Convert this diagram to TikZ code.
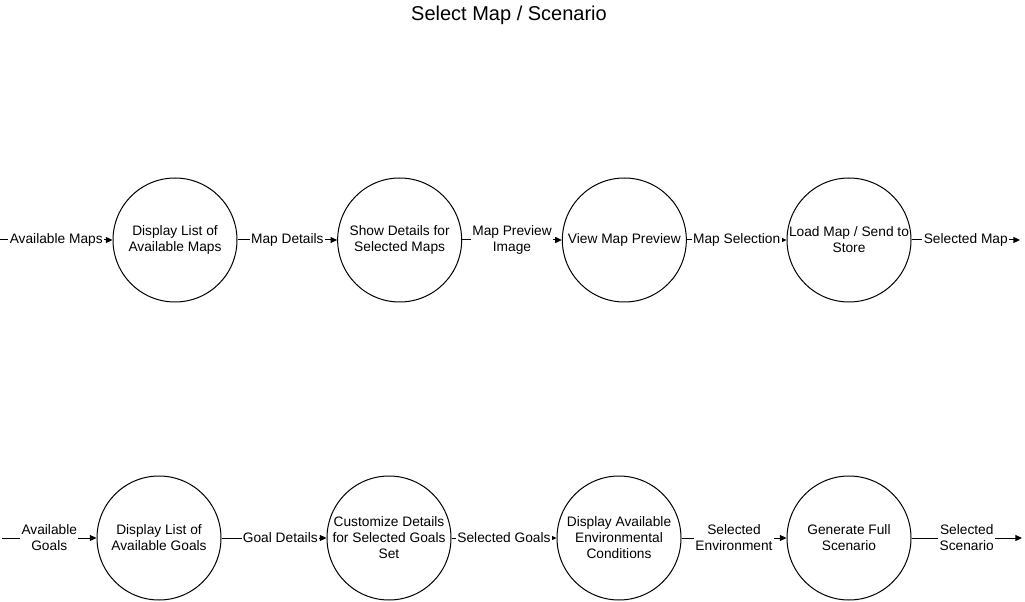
\documentclass[tikz,border=0pt]{standalone}
\usepackage{fontspec}
\setmainfont{Liberation Sans}
\usetikzlibrary{automata, positioning, arrows.meta}

\begin{document}
\begin{tikzpicture}[x=0.75pt,y=-0.75pt,node distance=168.5pt,on grid,
       every state/.style={draw,line width=0.75pt,minimum size=93pt,inner sep=0pt,align=center,font=\fontsize{10.3}{12}\selectfont},
       flow/.style={-{Triangle[length=5pt,width=4.5pt]},line width=0.75pt},
       lbl/.style={fill=white,inner sep=1pt,align=center,font=\fontsize{10.3}{12}\selectfont}]
       \useasboundingbox (0,0) rectangle (1025,602);
       \node (title) at (509,15) {\fontsize{15}{18}\selectfont Select Map / Scenario};

       % maps
       \node[state] (A) at (175,240) {Display List of\\Available Maps};
       \node[state] (B) [right=of A] {Show Details for\\Selected Maps};
       \node[state] (C) [right=of B] {View Map Preview};
       \node[state] (D) [right=of C] {Load Map / Send to\\Store};
       \coordinate (mapsin) at (0,240);
       \coordinate (mapsout) at (1020,240);

       % goals
       \node[state] (E) at (159,538) {Display List of\\Available Goals};
       \node[state] (F) [right=172.5pt of E] {Customize Details\\for Selected Goals\\Set};
       \node[state] (G) [right=172.5pt of F] {Display Available\\Environmental\\Conditions};
       \node[state] (H) [right=172.5pt of G] {Generate Full\\Scenario};
       \coordinate (goalsin) at (2,538);
       \coordinate (goalsout) at (1022,538);

       \path[flow]
       (mapsin) edge node[lbl] {Available Maps} (A)
       (A) edge node[lbl] {Map Details} (B)
       (B) edge node[lbl] {Map Preview\\Image} (C)
       (C) edge node[lbl] {Map Selection} (D)
       (D) edge node[lbl] {Selected Map} (mapsout)
       (goalsin) edge node[lbl] {Available\\Goals} (E)
       (E) edge node[lbl,pos=.56] {Goal Details} (F)
       (F) edge node[lbl] {Selected Goals} (G)
       (G) edge node[lbl] {Selected\\Environment} (H)
       (H) edge node[lbl] {Selected\\Scenario} (goalsout);
    \end{tikzpicture}
\end{document}
